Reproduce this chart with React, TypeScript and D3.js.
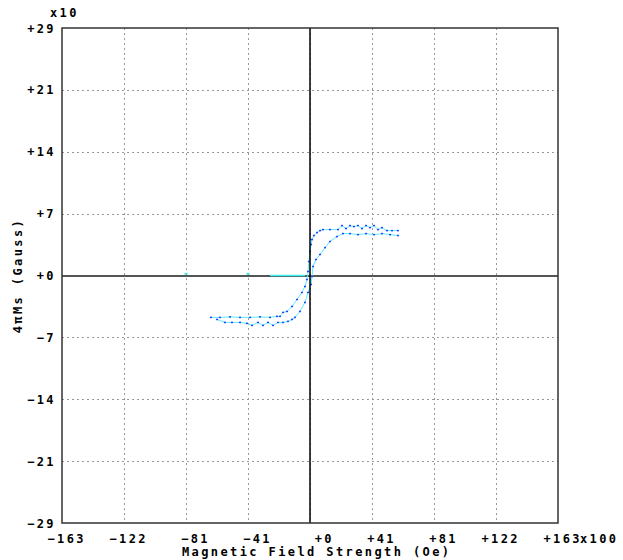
import React from "react";
import * as d3 from "d3";

// hysteresis loop, H in x100 Oe, 4πMs in x10 Gauss
const branchLeftH = [-65.1, -59.2, -52.6, -46.0, -39.4, -32.9, -26.3, -21.7, -19.7, -17.7, -15.1, -11.8, -8.5, -5.3, -3.3, -2.0, -1.3, -0.7, 0, 0.7, 1.3, 2.6, 4.6, 6.6, 8.5, 13.1, 18.4, 21.0, 23.7, 26.3, 28.9, 31.5, 34.2, 36.8, 39.4, 42.1, 44.7, 47.3, 50.6, 53.9, 57.8];
const branchLeftM = [-4.91, -4.91, -4.85, -4.91, -4.91, -4.85, -4.91, -4.79, -4.79, -4.33, -4.21, -3.63, -2.81, -1.99, -1.29, -0.47, 0.47, 1.64, 2.81, 3.63, 4.21, 4.68, 5.03, 5.26, 5.38, 5.38, 5.38, 5.85, 5.5, 5.85, 5.73, 5.85, 5.5, 5.85, 5.61, 5.85, 5.38, 5.61, 5.26, 5.26, 5.26];

const branchRightH = [-61.1, -55.9, -51.3, -46.0, -41.4, -38.1, -34.2, -30.9, -27.6, -24.3, -21.0, -17.7, -14.5, -11.8, -9.9, -6.6, -3.3, -1.3, 0.7, 1.3, 2.0, 3.9, 6.6, 9.9, 13.1, 17.7, 21.7, 26.3, 31.5, 36.8, 42.1, 47.3, 52.6, 57.8];
const branchRightM = [-5.15, -5.5, -5.5, -5.5, -5.61, -5.85, -5.5, -5.85, -5.5, -5.85, -5.5, -5.5, -5.38, -5.15, -4.91, -4.21, -3.16, -1.99, -1.05, -0.12, 1.05, 1.87, 2.46, 3.27, 3.98, 4.56, 4.91, 4.91, 4.79, 4.91, 4.79, 4.91, 4.79, 4.68];

const initialH = [-26.3, -3.3];
const initialM = [0, 0];
const strayH = [-81.5, -40.75];
const strayM = [0.2, 0.2];

const xTicks = [-163, -122.25, -81.5, -40.75, 0, 40.75, 81.5, 122.25, 163];
const xTickLabels = ["−163", "−122", "−81", "−41", "+0", "+41", "+81", "+122", "+163"];
const yTicks = [29, 21.75, 14.5, 7.25, 0, -7.25, -14.5, -21.75, -29];
const yTickLabels = ["+29", "+21", "+14", "+7", "+0", "−7", "−14", "−21", "−29"];

const W = 623;
const H = 560;
const plot = { left: 62, right: 558, top: 28, bottom: 523 };
const font = "'DejaVu Sans Mono', monospace";

export default function App() {
  const x = d3.scaleLinear().domain([-163, 163]).range([plot.left, plot.right]);
  const y = d3.scaleLinear().domain([-29, 29]).range([plot.bottom, plot.top]);

  const line = d3
    .line<[number, number]>()
    .x((d) => x(d[0]))
    .y((d) => y(d[1]));

  const left = branchLeftH.map((h, i) => [h, branchLeftM[i]] as [number, number]);
  const right = branchRightH.map((h, i) => [h, branchRightM[i]] as [number, number]);
  const initial = initialH.map((h, i) => [h, initialM[i]] as [number, number]);

  const textStyle = {
    fontFamily: font,
    fontWeight: 700,
    fontSize: 12,
    letterSpacing: 2.4,
    fill: "#000",
  };

  return (
    <svg
      width={W}
      height={H}
      style={{ position: "absolute", left: 0, top: 0, background: "#fff" }}
    >
      {/* grid */}
      <g stroke="#999" strokeDasharray="2,3" shapeRendering="crispEdges">
        {xTicks.slice(1, -1).map((t) => (
          <line key={"gx" + t} x1={Math.round(x(t)) + 0.5} x2={Math.round(x(t)) + 0.5} y1={plot.top} y2={plot.bottom} />
        ))}
        {yTicks.slice(1, -1).map((t) => (
          <line key={"gy" + t} x1={plot.left} x2={plot.right} y1={Math.round(y(t)) + 0.5} y2={Math.round(y(t)) + 0.5} />
        ))}
      </g>

      {/* zero line */}
      <line x1={plot.left} x2={plot.right} y1={y(0)} y2={y(0)} stroke="#555" strokeWidth={2} shapeRendering="crispEdges" />

      {/* data */}
      <path d={line(initial) || ""} fill="none" stroke="#40f0f0" strokeWidth={1.5} />
      {strayH.map((h, i) => (
        <rect key={"s" + i} x={x(h) - 1.5} y={y(strayM[i]) - 1} width={3} height={2} fill="#40e0e0" />
      ))}
      <path d={line(left) || ""} fill="none" stroke="#5cecff" strokeWidth={1} />
      <path d={line(right) || ""} fill="none" stroke="#5cecff" strokeWidth={1} />
      {left.concat(right).map((d, i) => (
        <rect key={"p" + i} x={x(d[0]) - 1} y={y(d[1]) - 0.75} width={2} height={1.5} fill="#2040ff" />
      ))}

      <line x1={x(0)} x2={x(0)} y1={plot.top} y2={plot.bottom} stroke="#000" strokeWidth={1.5} />

      {/* frame */}
      <rect
        x={plot.left}
        y={plot.top}
        width={plot.right - plot.left}
        height={plot.bottom - plot.top}
        fill="none"
        stroke="#333"
        strokeWidth={1.5}
      />

      {/* x tick labels */}
      {xTicks.map((t, i) => (
        <text key={"xl" + t} x={x(t) + 24} y={543} textAnchor="end" style={textStyle}>
          {xTickLabels[i]}
        </text>
      ))}
      <text x={x(163) + 22} y={543} style={textStyle}>x100</text>

      {/* y tick labels */}
      {yTicks.map((t, i) => (
        <text key={"yl" + t} x={56} y={y(t) + 4.5} textAnchor="end" style={textStyle}>
          {yTickLabels[i]}
        </text>
      ))}
      <text x={50} y={17} style={textStyle}>x10</text>

      {/* axis titles */}
      <text x={182} y={556} style={textStyle}>
        Magnetic Field Strength (Oe)
      </text>
      <text
        transform={`translate(22, ${(plot.top + plot.bottom) / 2}) rotate(-90)`}
        textAnchor="middle"
        style={textStyle}
      >
        4πMs (Gauss)
      </text>
    </svg>
  );
}
